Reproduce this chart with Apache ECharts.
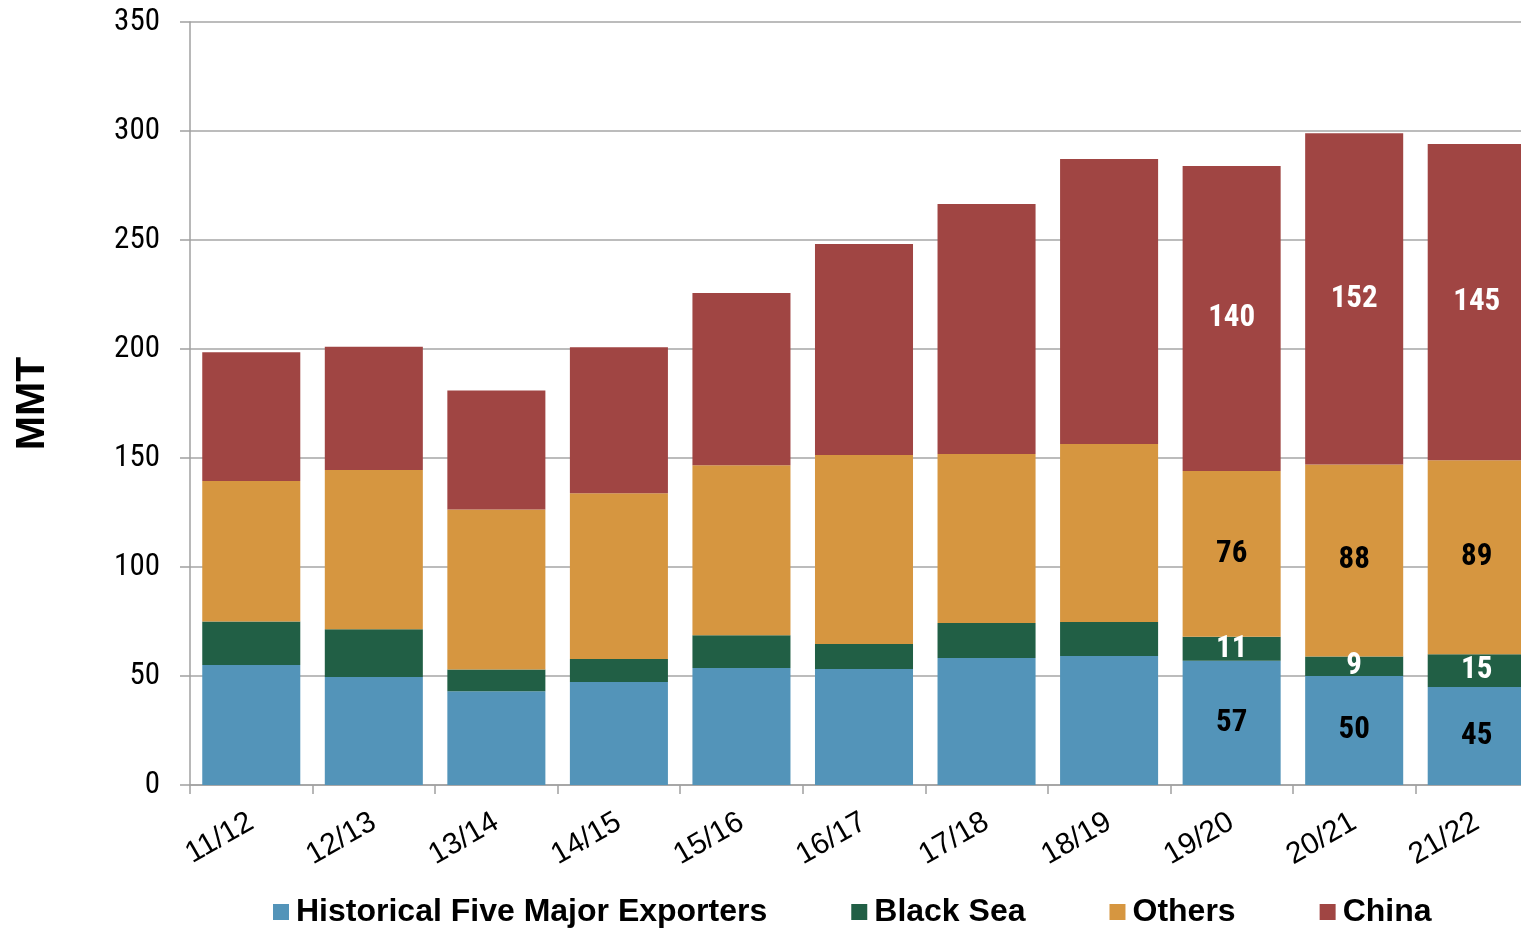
<!DOCTYPE html>
<html><head><meta charset="utf-8">
<script src="https://cdn.jsdelivr.net/npm/echarts@6/dist/echarts.min.js"></script>
<style>html,body{margin:0;padding:0;background:#fff;overflow:hidden}#c{width:1540px;height:929px}</style>
</head><body><div id="c"></div>
<script>
const categories = ['11/12','12/13','13/14','14/15','15/16','16/17','17/18','18/19','19/20','20/21','21/22'];
const historicalFive = [55, 49.5, 43, 47.2, 53.7, 53.2, 58.3, 59.2, 57, 50, 45];
const blackSea = [20, 22, 10, 10.6, 15, 11.5, 16, 15.6, 11, 9, 15];
const others = [64.5, 73, 73.4, 76, 78, 86.7, 77.5, 81.6, 76, 88, 89];
const china = [59, 56.5, 54.6, 67, 79, 96.8, 114.7, 130.8, 140, 152, 145];
const labeledCategories = ['19/20','20/21','21/22'];
const yTicks = {min: 0, max: 350, interval: 50};

const condensed = "'Roboto Condensed','Liberation Sans Narrow','DejaVu Sans Condensed','Arial Narrow',sans-serif";
const arial = "'Liberation Sans', Arial, sans-serif";
const chart = echarts.init(document.getElementById('c'), null, {renderer: 'canvas'});

function mk(name, vals, color, labelColor) {
  return {
    name, type: 'bar', stack: 'total', barCategoryGap: '20%',
    itemStyle: {color},
    data: vals.map((v, i) => ({
      value: v,
      label: {show: labeledCategories.includes(categories[i])}
    })),
    label: {
      position: 'inside', color: labelColor, fontFamily: condensed, fontWeight: 'bold', fontSize: 31,
      formatter: p => Math.round(p.value)
    }
  };
}

chart.setOption({
  backgroundColor: '#fff',
  animation: false,
  grid: {left: 190, top: 22, right: 2, height: 763, containLabel: false, outerBoundsMode: 'none'},
  legend: {
    top: 891, left: 268, itemWidth: 16, itemHeight: 16, itemGap: 84, icon: 'rect',
    textStyle: {fontFamily: arial, fontWeight: 'bold', fontSize: 32, color: '#000', padding: [0,0,0,2]},
    data: ['Historical Five Major Exporters', 'Black Sea', 'Others', 'China']
  },
  xAxis: {
    type: 'category', data: categories,
    axisLine: {lineStyle: {color: '#A0A0A0', width: 1.5}},
    axisTick: {show: true, length: 9, lineStyle: {color: '#A0A0A0', width: 1.5}},
    axisLabel: {rotate: 30, margin: 35, fontFamily: arial, fontSize: 30, color: '#000'}
  },
  yAxis: {
    type: 'value', min: yTicks.min, max: yTicks.max, interval: yTicks.interval,
    name: 'MMT', nameLocation: 'middle', nameGap: 137, nameRotate: 90,
    nameTextStyle: {fontFamily: arial, fontWeight: 'bold', fontSize: 41, color: '#000'},
    axisLine: {show: true, lineStyle: {color: '#A0A0A0', width: 1.5}},
    axisTick: {show: true, length: 10, lineStyle: {color: '#A0A0A0', width: 1.5}},
    splitLine: {lineStyle: {color: '#A6A6A6', width: 1.5}},
    axisLabel: {margin: 30, fontFamily: condensed, fontSize: 31, color: '#000'}
  },
  series: [
    mk('Historical Five Major Exporters', historicalFive, '#5394B9', '#000'),
    mk('Black Sea', blackSea, '#215F45', '#fff'),
    mk('Others', others, '#D69640', '#000'),
    mk('China', china, '#A04543', '#fff')
  ]
});
</script></body></html>
